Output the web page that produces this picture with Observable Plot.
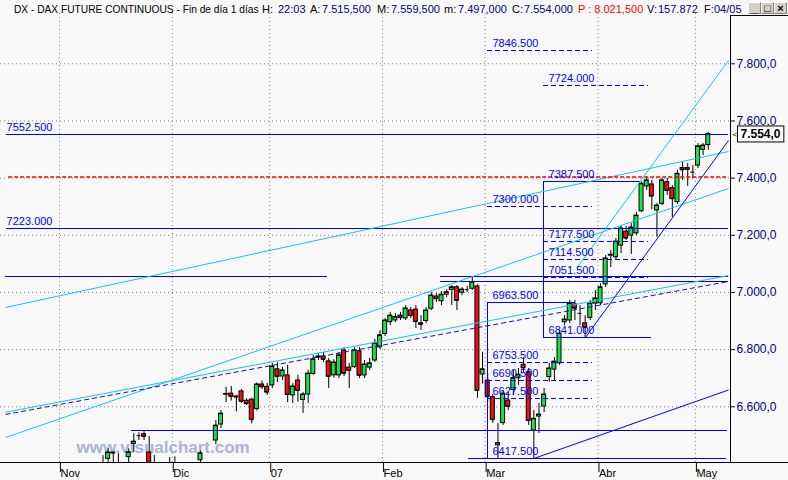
<!DOCTYPE html>
<html><head><meta charset="utf-8">
<script src="https://cdn.jsdelivr.net/npm/d3@7"></script>
<script src="https://cdn.jsdelivr.net/npm/@observablehq/plot@0.6"></script>
<style>
html,body{margin:0;padding:0;background:#f8f8f8;}
#chart{width:788px;height:480px;overflow:hidden;}
</style></head>
<body><div id="chart"></div>
<script>
// ---- data (bar index 0 = 1 Nov 2006) ----
const monthTicks = [-0.5, 21.5, 40.5, 62.5, 82.5, 104.5, 123.5];
const monthLabels = ["Nov","Dic","07","Feb","Mar","Abr","May"];
const priceTicks = [6600, 6800, 7000, 7200, 7400, 7600, 7800];
const opens  = [6290,6300,6320,6310,6340,6360,6350,6375,6385,6418,6440,6400,6395,6424,6470,6499,6504,6440,6385,6360,6330,6350,
  6395,6380,6360,6385,6370,6413,6400,6385,6482,6538,6643,6646,6636,6654,6621,6625,6592,6678,6670,
  6675,6731,6706,6710,6640,6692,6624,6643,6715,6772,6776,6759,6710,6710,6797,6737,6739,6794,6710,6737,6762,6808,
  6855,6896,6902,6919,6909,6937,6940,6892,6900,6943,6986,6969,6992,7009,7018,6999,7010,7013,7021,6713,
  6692,6634,6465,6543,6622,6659,6700,6747,6721,6517,6566,6601,6704,6730,6752,6896,6902,6958,6927,6892,6911,6961,
  6962,7028,7129,7123,7164,7213,7199,7207,7284,7371,7378,7287,7310,7386,7365,7316,7435,7429,7421,
  7444,7499,7515.5];
const highs  = [6320,6330,6340,6350,6370,6380,6385,6395,6429,6454,6441,6436,6404,6453,6506,6509,6513,6496,6430,6390,6370,6422,
  6425,6400,6395,6400,6400,6445,6404,6402,6552,6587,6668,6671,6640,6660,6628,6630,6684,6690,6682,
  6752,6755,6738,6745,6681,6710,6650,6727,6779,6786,6790,6769,6765,6790,6807,6752,6807,6807,6762,6769,6836,6867,
  6909,6930,6926,6930,6954,6947,6954,6919,6947,7000,6996,7003,7010,7024,7024,7017,7021,7056,7028,6791,
  6717,6643,6542,6657,6650,6727,6734,6772,6734,6587,6612,6664,6752,6772,6867,6919,6972,6972,6954,6919,6972,7007,
  7031,7129,7147,7189,7231,7231,7241,7280,7387.5,7403,7392,7311,7399,7399,7374,7427,7456,7451,7444,
  7521,7521,7559.5];
const lows   = [6260,6280,6290,6300,6320,6330,6340,6350,6370,6400,6400,6380,6370,6405,6440,6482,6482,6370,6350,6320,6300,6340,
  6370,6340,6340,6360,6350,6398,6370,6360,6467,6524,6615,6620,6582,6612,6605,6541,6585,6660,6640,
  6664,6685,6692,6615,6612,6616,6577,6612,6710,6762,6755,6664,6700,6699,6706,6664,6734,6699,6699,6727,6755,6801,
  6846,6884,6895,6902,6902,6909,6874,6867,6891,6937,6965,6954,6982,6954,6937,6989,7000,7007,6630,6680,
  6616,6542,6419,6535,6587,6640,6675,6720,6535,6419,6507,6580,6686,6692,6745,6884,6891,6902,6884,6841,6902,6937,
  6954,7017,7087,7112,7136,7182,7133,7199,7280,7357,7290,7193,7304,7339,7263,7308,7392,7371,7398,
  7434,7479,7497];
const closes = [6300,6320,6310,6340,6360,6350,6375,6380,6395,6440,6438,6395,6398,6441,6478,6499,6496,6380,6360,6330,6350,6395,
  6380,6360,6385,6370,6390,6437,6385,6395,6534,6576,6645,6636,6634,6619,6611,6555,6678,6670,6651,
  6741,6706,6727,6643,6671,6657,6643,6716,6766,6776,6766,6706,6755,6780,6717,6727,6797,6710,6748,6752,6822,6850,
  6902,6919,6914,6912,6944,6919,6898,6888,6937,6989,6978,6992,7001,7018,6972,7010,7010,7036,6657,6731,
  6636,6555,6473,6646,6601,6700,6712,6736,6552,6558,6573,6643,6734,6758,6856,6905,6961,6945,6927,6878,6961,6979,
  7018,7119,7132,7178,7224,7190,7227,7269,7380,7392,7337,7304,7392,7357,7328,7415,7429,7435,7421,
  7511,7514,7554];
const lastClose = 7554;

// horizontal levels drawn on the chart (price, first bar, last bar)
const levelPrices = [7552.5, 7223, 7056, 7056, 7037, 6516, 6417.5, 7387.5, 6841, 6963.5];
const levelFrom   = [-10.8, -10.8, -11.0, 73.8, 73.8, 13.55, 79.3, 93.9, 93.9, 82.96];
const levelTo     = [130, 130, 51.8, 130, 130, 129.8, 129.6, 112.8, 114.9, 100.1];
const redLevel = [7404], redFrom = -10.4, redTo = 130;
const boxEdgeBar  = [93.9, 82.96];
const boxEdgeLow  = [6841, 6417.5];
const boxEdgeHigh = [7387.5, 6963.5];
const projA = [7724, 7177.5, 7114.5, 7051.5];         // from bar 93.9 to 114.3
const projB = [7846.5, 7300, 6753.5, 6690.5, 6627.5]; // from bar 82.96 to 103.4
const labelsA = [7724, 7387.5, 7177.5, 7114.5, 7051.5, 6841];
const labelsB = [7846.5, 7300, 6963.5, 6753.5, 6690.5, 6627.5, 6417.5];
const labelsLeft = [7552.5, 7223];
// trend lines
const trendBar1  = [-11.02, -11.02, -11.02, 100.3, -11.02, 102, 92];
const trendP1    = [6947.4, 6492.6, 6581.1, 7083.9, 6573.1, 6841, 6419];
const trendBar2  = [129.95, 129.95, 129.95, 129.95, 129.95, 129.95, 129.95];
const trendP2    = [7493.2, 7363.8, 7059.4, 7811.6, 7038.4, 7531.7, 6658.8];
const trendKind  = ["cyan","cyan","cyan","cyan","dash","blue","blue"];

// ---- build ----
const GREEN = "#1de044", RED = "#ee1111", CYAN = "#12c4f4", BLUE = "#0000ff", DBLUE = "#1010c8";
const FONT = "Liberation Sans, Arial, sans-serif";
const loc = d3.formatLocale({decimal: ",", thousands: ".", grouping: [3]});
const fmtAxis = loc.format(",.1f");
const fmtLvl = d3.format(".3f");

const bars = opens.map((o, i) => ({i, o, h: highs[i], l: lows[i], c: closes[i]}));
const levels = levelPrices.map((p, k) => ({p, a: levelFrom[k], b: levelTo[k]}));
const edges = boxEdgeBar.map((x, k) => ({x, lo: boxEdgeLow[k], hi: boxEdgeHigh[k]}));
const trends = trendBar1.map((x1, k) => ({x1, y1: trendP1[k], x2: trendBar2[k], y2: trendP2[k], kind: trendKind[k]}));

const chart = Plot.plot({
  width: 788, height: 480,
  marginTop: 13, marginBottom: 18, marginLeft: 0, marginRight: 58,
  x: {domain: [-11.99, 130.34], axis: null},
  y: {domain: [6405.1, 7976.0], axis: null},
  style: {background: "#f8f8f8", fontFamily: FONT, color: "#000"},
  marks: [
    Plot.gridY(priceTicks, {stroke: "#808080", strokeOpacity: 1, strokeDasharray: "1,3"}),
    Plot.gridX(monthTicks, {stroke: "#808080", strokeOpacity: 1, strokeDasharray: "1,3"}),
    Plot.text(["www.visualchart.com"], {frameAnchor: "bottom-left", dx: 76, dy: -10, text: d => d,
      textAnchor: "start", lineAnchor: "bottom", fontSize: 17, fontWeight: "bold", fill: "#aab2d6"}),
    // candles
    Plot.ruleX(bars, {x: "i", y1: "l", y2: "h", stroke: "#000", clip: true}),
    Plot.rect(bars, {x1: d => d.i - 0.39, x2: d => d.i + 0.39, y1: "o", y2: "c",
      fill: d => d.c >= d.o ? GREEN : RED, stroke: "#000", clip: true}),
    Plot.ruleY(bars, {y: "c", x1: d => d.i - 0.39, x2: d => d.i + 0.39, stroke: "#000", clip: true}),
    // drawings
    Plot.ruleY(levels, {y: "p", x1: "a", x2: "b", stroke: BLUE, shapeRendering: "crispEdges"}),
    Plot.ruleX(edges, {x: "x", y1: "lo", y2: "hi", stroke: BLUE, shapeRendering: "crispEdges"}),
    Plot.ruleY(projA, {y: d => d, x1: () => 93.9, x2: () => 114.3, stroke: BLUE, strokeDasharray: "5,3", shapeRendering: "crispEdges"}),
    Plot.ruleY(projB, {y: d => d, x1: () => 82.96, x2: () => 103.4, stroke: BLUE, strokeDasharray: "5,3", shapeRendering: "crispEdges"}),
    Plot.link(trends.filter(t => t.kind === "cyan"), {x1: "x1", y1: "y1", x2: "x2", y2: "y2", stroke: CYAN, clip: true}),
    Plot.link(trends.filter(t => t.kind === "dash"), {x1: "x1", y1: "y1", x2: "x2", y2: "y2", stroke: DBLUE, strokeDasharray: "5,3", clip: true}),
    Plot.link(trends.filter(t => t.kind === "blue"), {x1: "x1", y1: "y1", x2: "x2", y2: "y2", stroke: BLUE, clip: true}),
    Plot.ruleY(redLevel, {y: d => d, x1: () => redFrom, x2: () => redTo, stroke: "red", strokeOpacity: 1, strokeWidth: 1.3, strokeDasharray: "4,2"}),
    Plot.text(labelsA, {x: () => 93.9, y: d => d, text: d => fmtLvl(d), dx: 5, dy: -4, textAnchor: "start", lineAnchor: "bottom", fill: BLUE, fontSize: 11}),
    Plot.text(labelsB, {x: () => 82.96, y: d => d, text: d => fmtLvl(d), dx: 5, dy: -4, textAnchor: "start", lineAnchor: "bottom", fill: BLUE, fontSize: 11}),
    Plot.text(labelsLeft, {x: () => -10.8, y: d => d, text: d => fmtLvl(d), dx: 0, dy: -4, textAnchor: "start", lineAnchor: "bottom", fill: BLUE, fontSize: 11}),
    // axes
    Plot.axisY({anchor: "right", ticks: priceTicks, tickSize: 4, tickPadding: 2, tickFormat: fmtAxis,
      fontSize: 12, color: "#000080", label: null}),
    Plot.axisX({anchor: "bottom", ticks: monthTicks, tickSize: 10, tickPadding: -3, textAnchor: "start", dx: 1,
      tickFormat: d => monthLabels[monthTicks.indexOf(d)], fontSize: 11, color: "#000", label: null}),
    Plot.text([lastClose], {y: d => d, frameAnchor: "right", dx: 30, text: d => fmtAxis(d), fontWeight: "bold",
      fontSize: 12, fill: "#000", textAnchor: "middle"}),
    Plot.text([lastClose], {y: d => d, frameAnchor: "right", dx: 2, text: () => "<", fontSize: 8, fill: "#000", textAnchor: "start"})
  ]
});
document.getElementById("chart").appendChild(chart);

// ---- chrome ----
const svg = d3.select(chart);
// box behind last price
svg.selectAll("text").filter(function(){ return this.textContent === fmtAxis(lastClose) && this.parentNode.getAttribute("font-weight") === "bold"; })
  .each(function(){
    const b = this.getBBox();
    d3.select(this.parentNode).insert("rect", () => this)
      .attr("x", b.x - 3).attr("y", b.y - 1).attr("width", b.width + 6).attr("height", b.height + 2)
      .attr("fill", "#fff").attr("stroke", "#000").attr("transform", this.getAttribute("transform"));
  });
const g = svg.append("g").attr("stroke", "#000").attr("shape-rendering", "crispEdges");
g.append("line").attr("x1", 0).attr("x2", 788).attr("y1", 462.5).attr("y2", 462.5);
g.append("line").attr("x1", 730.5).attr("x2", 730.5).attr("y1", 15).attr("y2", 462.5);
g.append("line").attr("x1", 730).attr("x2", 788).attr("y1", 15.5).attr("y2", 15.5);

// header
const hdr = [
  ["DX - DAX FUTURE CONTINUOUS - Fin de día 1 días", 14, "#000", 10.2],
  ["H:", 262, "#000"], ["22:03", 278, "#000080"],
  ["A:", 310, "#000"], ["7.515,500", 322, "#000080"],
  ["M:", 377, "#000"], ["7.559,500", 391, "#000080"],
  ["m:", 444, "#000"], ["7.497,000", 458, "#000080"],
  ["C:", 512, "#000"], ["7.554,000", 524, "#000080"],
  ["P : 8.021,500", 578, "#ff0000"],
  ["V:", 647, "#000"], ["157.872", 658, "#000080"],
  ["F:", 704, "#000"], ["04/05", 714, "#000080"]
];
const ht = svg.append("g").attr("font-family", FONT).attr("font-size", 11).attr("text-anchor", "start");
hdr.forEach(([t, x, c, fs]) => {
  const el = ht.append("text").attr("x", x).attr("y", 12.5).attr("fill", c).text(t);
  if (fs) el.attr("font-size", fs);
});

// window buttons
const btn = svg.append("g");
[[748, "_"], [761, "□"], [774, "×"]].forEach(([x, t]) => {
  btn.append("rect").attr("x", x + 0.5).attr("y", 2.5).attr("width", 12).attr("height", 11).attr("fill", "#d4d0c8").attr("stroke", "#808080");
  btn.append("line").attr("x1", x + 0.5).attr("x2", x + 12.5).attr("y1", 2.5).attr("y2", 2.5).attr("stroke", "#fff");
  btn.append("line").attr("x1", x + 0.5).attr("x2", x + 0.5).attr("y1", 2.5).attr("y2", 13.5).attr("stroke", "#fff");
  btn.append("text").attr("x", x + 6.5).attr("y", 12).attr("text-anchor", "middle").attr("font-size", 11)
    .attr("font-weight", "bold").attr("font-family", FONT).text(t);
});
</script>
</body></html>
